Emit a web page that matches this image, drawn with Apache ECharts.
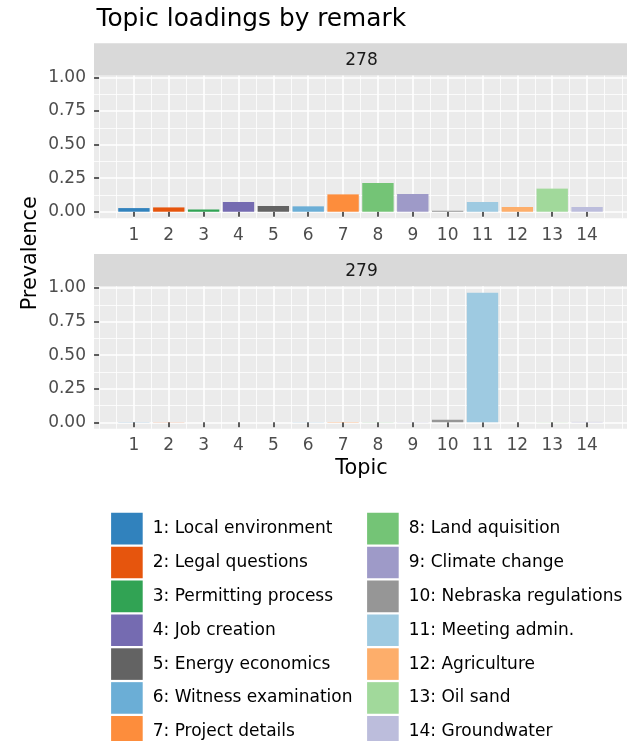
<!DOCTYPE html>
<html><head><meta charset="utf-8">
<script src="https://cdn.jsdelivr.net/npm/echarts@6/dist/echarts.min.js"></script>
<style>html,body{margin:0;padding:0;background:#fff}#c{width:627px;height:741px}</style>
</head><body><div id="c"></div>
<script>
// ---- data ----
const topics = ['1: Local environment','2: Legal questions','3: Permitting process','4: Job creation','5: Energy economics','6: Witness examination','7: Project details','8: Land aquisition','9: Climate change','10: Nebraska regulations','11: Meeting admin.','12: Agriculture','13: Oil sand','14: Groundwater'];
const topicNums = [1,2,3,4,5,6,7,8,9,10,11,12,13,14];
const remarks = ['278','279'];
const prevalence278 = [0.027,0.032,0.017,0.072,0.042,0.040,0.129,0.214,0.132,0.007,0.072,0.035,0.172,0.035];
const prevalence279 = [0.001,0.001,0.001,0.001,0.001,0.001,0.002,0.001,0.001,0.020,0.965,0.001,0.001,0.003];
const colors = ['#3182bd','#e6550d','#31a354','#756bb1','#636363','#6baed6','#fd8d3c','#74c476','#9e9ac8','#969696','#9ecae1','#fdae6b','#a1d99b','#bcbddc'];
const yTicks = [0,0.25,0.5,0.75,1];
const yMinorTicks = [0.125,0.375,0.625,0.875];
const xMinorTicks = [0,0.5,1.5,2.5,3.5,4.5,5.5,6.5,7.5,8.5,9.5,10.5,11.5,12.5,13.5,14.5,15];

// ---- layout ----
const FONT = 'DejaVu Sans';
const SMALL = 17;
const X_MIN = -0.145, X_MAX = 15.145, Y_MIN = -0.04825, Y_MAX = 1.01325;
const GL = 94, GW = 535.2, GH = 142.6;
const panelTops = [75.6, 286.2];
const stripTops = [43.3, 254.0];
const values = [prevalence278, prevalence279];

const grid = [], xAxis = [], yAxis = [], series = [], graphic = [];
panelTops.forEach((top, i) => {
  grid.push({left: GL, top: top, width: GW, height: GH, show: true, backgroundColor: '#ebebeb', borderWidth: 0});
  xAxis.push({type: 'value', gridIndex: i, min: X_MIN, max: X_MAX,
    axisLine: {show: false},
    axisTick: {show: true, customValues: topicNums, length: 5, lineStyle: {color: '#333333', width: 1.6}},
    axisLabel: {show: true, customValues: topicNums, color: '#4d4d4d', fontSize: SMALL, fontFamily: FONT, margin: 8.4},
    splitLine: {show: true, lineStyle: {color: '#ffffff', width: 1.6}}, z: 2});
  xAxis.push({type: 'value', gridIndex: i, min: X_MIN, max: X_MAX,
    axisLine: {show: false}, axisTick: {show: false, customValues: xMinorTicks}, axisLabel: {show: false},
    splitLine: {show: true, lineStyle: {color: '#ffffff', width: 0.8}}, z: 1});
  yAxis.push({type: 'value', gridIndex: i, min: Y_MIN, max: Y_MAX,
    axisLine: {show: false},
    axisTick: {show: true, customValues: yTicks, length: 5, lineStyle: {color: '#333333', width: 1.6}},
    axisLabel: {show: true, customValues: yTicks, color: '#4d4d4d', fontSize: SMALL, fontFamily: FONT, margin: 8,
      formatter: v => Number(v).toFixed(2)},
    splitLine: {show: true, lineStyle: {color: '#ffffff', width: 1.6}}, z: 2});
  yAxis.push({type: 'value', gridIndex: i, min: Y_MIN, max: Y_MAX,
    axisLine: {show: false}, axisTick: {show: false, customValues: yMinorTicks}, axisLabel: {show: false},
    splitLine: {show: true, lineStyle: {color: '#ffffff', width: 0.8}}, z: 1});
  series.push({type: 'bar', name: 'Remark ' + remarks[i], xAxisIndex: i * 2, yAxisIndex: i * 2,
    barWidth: '90%', z: 5,
    data: values[i].map((v, k) => ({value: [topicNums[k], v], itemStyle: {color: colors[k]}}))});
  graphic.push({type: 'rect', shape: {x: GL, y: stripTops[i], width: GW, height: top - stripTops[i]}, style: {fill: '#d9d9d9'}, z: 0});
  graphic.push({type: 'text', x: 361.5, y: stripTops[i] + 17.6, z: 10,
    style: {text: remarks[i], fontSize: SMALL, fontFamily: FONT, fill: '#1a1a1a', align: 'center', verticalAlign: 'middle'}});
});
// legend-only series
topics.forEach((t, k) => series.push({type: 'line', name: t, data: [], xAxisIndex: 0, yAxisIndex: 0,
  itemStyle: {color: colors[k]}, lineStyle: {color: colors[k]}}));

graphic.push({type: 'text', x: 96.5, y: 20, z: 10,
  style: {text: 'Topic loadings by remark', fontSize: 24.8, fontFamily: FONT, fill: '#000', align: 'left', verticalAlign: 'middle'}});
graphic.push({type: 'text', x: 361.5, y: 468.9, z: 10,
  style: {text: 'Topic', fontSize: 20.8, fontFamily: FONT, fill: '#000', align: 'center', verticalAlign: 'middle'}});
graphic.push({type: 'text', x: 30.4, y: 253.3, rotation: Math.PI / 2, z: 10,
  style: {text: 'Prevalence', fontSize: 20.8, fontFamily: FONT, fill: '#000', align: 'center', verticalAlign: 'middle'}});

const legendBase = {orient: 'vertical', icon: 'rect', itemWidth: 31.6, itemHeight: 31.6, itemGap: 2.27,
  padding: 0, selectedMode: false, height: 400, width: 300,
  textStyle: {fontSize: SMALL, fontFamily: FONT, color: '#000', padding: [0, 0, 0, 5]}};
const legend = [
  Object.assign({}, legendBase, {data: topics.slice(0, 7), left: 111.1, top: 512.8}),
  Object.assign({}, legendBase, {data: topics.slice(7), left: 367.1, top: 512.8})
];

const chart = echarts.init(document.getElementById('c'), null, {renderer: 'canvas'});
chart.setOption({animation: false, backgroundColor: '#ffffff', grid, xAxis, yAxis, series, legend, graphic});
</script></body></html>
